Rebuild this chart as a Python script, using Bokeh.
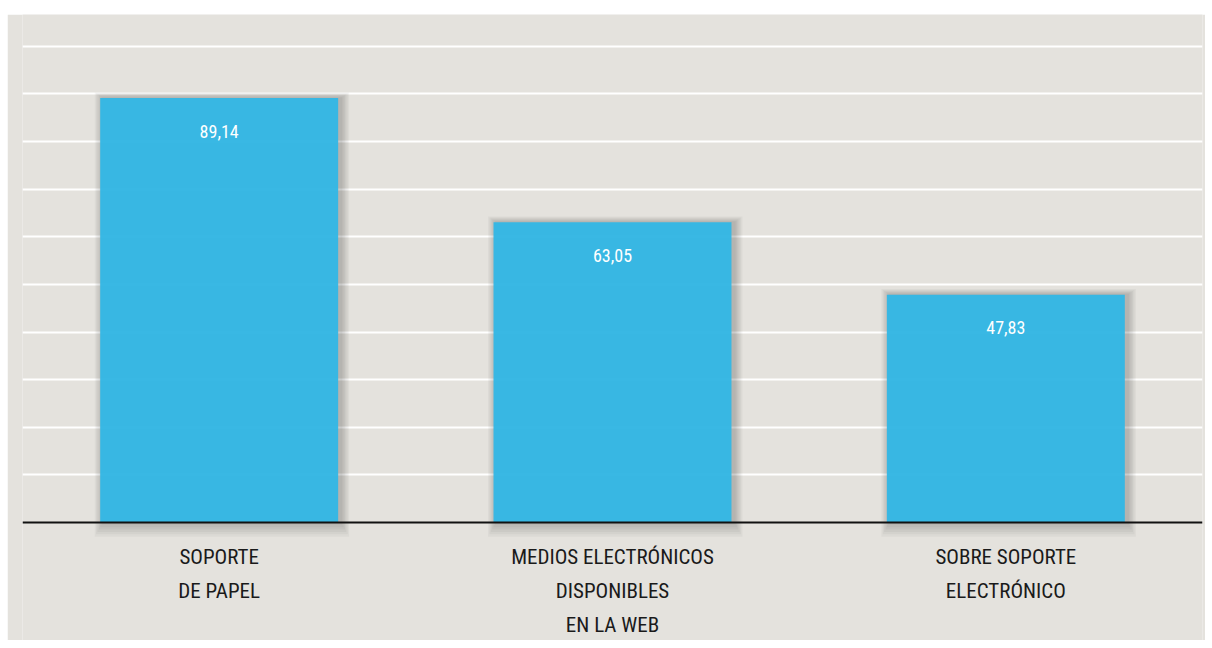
from bokeh.plotting import figure
from bokeh.models import FixedTicker, Span, Spacer, ColumnDataSource
from bokeh.layouts import column, row
from bokeh.transform import dodge
from bokeh.core.properties import value
from bokeh.embed import file_html
from bokeh.resources import INLINE

categories = ["SOPORTE\nDE PAPEL", "MEDIOS ELECTRÓNICOS\nDISPONIBLES\nEN LA WEB", "SOBRE SOPORTE\nELECTRÓNICO"]
values = [89.14, 63.05, 47.83]
value_labels = ["89,14", "63,05", "47,83"]
grid_ticks = [10, 20, 30, 40, 50, 60, 70, 80, 90, 100]

BG = "#e4e2dd"
BAR = "#33b7e5"
FONT = "Roboto Condensed"

p = figure(x_range=categories, y_range=(-24.8, 106.7), width=1198, height=626,
           output_backend="svg", toolbar_location=None)
p.min_border = 0
p.min_border_left = 15
p.min_border_right = 3
p.background_fill_color = BG
p.border_fill_color = BG
p.outline_line_color = None
p.xaxis.visible = False
p.yaxis.visible = False
p.xgrid.grid_line_color = None
p.yaxis.ticker = FixedTicker(ticks=grid_ticks)
p.ygrid.ticker = FixedTicker(ticks=grid_ticks)
p.ygrid.grid_line_color = "white"
p.ygrid.grid_line_width = 2

# soft drop shadow layers
for k in range(1, 7):
    src_s = ColumnDataSource(dict(x=categories, top=[v + 0.2 * k for v in values]))
    p.vbar(x=dodge("x", 0.007, range=p.x_range), top="top", bottom=-0.5 * k,
           width=0.605 + 0.007 * k, source=src_s, fill_color="black",
           fill_alpha=0.035, line_color=None)

p.vbar(x=categories, top=values, bottom=0, width=0.605, fill_color=BAR,
       fill_alpha=0.96, line_color=None)

p.add_layout(Span(location=0, dimension="width", line_color="#111111", line_width=2))

p.text(x=categories, y=values, text=value_labels, y_offset=33,
       text_align="center", text_baseline="middle", text_color="white",
       text_font=value(FONT), text_font_size="18px")

# category labels, one glyph per line
xs, ys, txt, offs = [], [], [], []
for c in categories:
    for i, line in enumerate(c.split("\n")):
        xs.append(c)
        ys.append(0)
        txt.append(line)
        offs.append(35 + 34 * i)
src = ColumnDataSource(dict(x=xs, y=ys, text=txt, off=offs))
p.text(x="x", y="y", text="text", y_offset="off", source=src,
       text_align="center", text_baseline="middle", text_color="#1a1a1a",
       text_font=value(FONT), text_font_size="21px")

layout = column(Spacer(height=14), row(Spacer(width=7), p))
open("out.html", "w").write(file_html(layout, INLINE))
